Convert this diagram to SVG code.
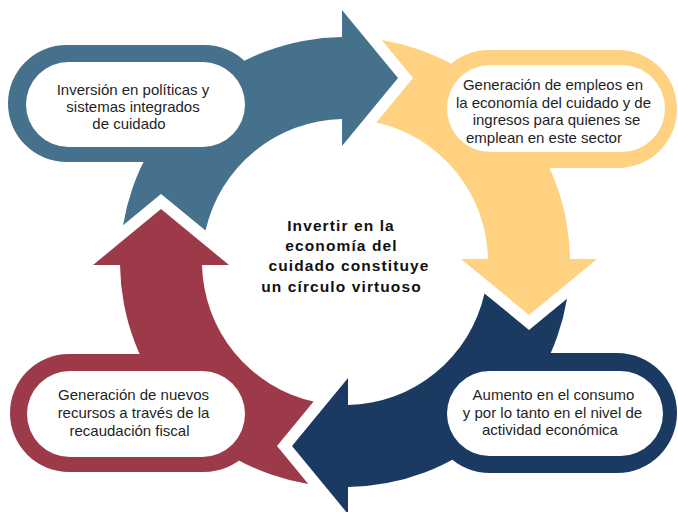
<svg xmlns="http://www.w3.org/2000/svg" width="678" height="512" viewBox="0 0 678 512">
  <defs>
    <path id="arrowShape" d="M 161 194 L 123 225.3 A 225 225 0 0 1 342 37.02 L 342 10 L 398 78 L 342 146 L 342 119.03 A 143 143 0 0 0 205.5 230.6 Z"/>
  </defs>
  <style>
    .lbl { font-family: "Liberation Sans", Arial, sans-serif; font-size: 15px; fill: #1f1f1f; text-anchor: middle; }
    .ctr { font-family: "Liberation Sans", Arial, sans-serif; font-size: 15.5px; font-weight: bold; fill: #111; text-anchor: middle; letter-spacing: 1.1px; }
    .white { fill: #ffffff; }
    .c-blue { fill: #46718C; }
    .c-yellow { fill: #FED280; }
    .c-navy { fill: #1A3A62; }
    .c-red { fill: #9C3A4A; }
  </style>
  <rect width="678" height="512" fill="#ffffff"/>

  <g id="connectors">
    <use href="#arrowShape" class="c-blue"/>
    <use href="#arrowShape" class="c-yellow" transform="rotate(90 345 262)"/>
    <use href="#arrowShape" class="c-navy" transform="rotate(180 345 262)"/>
    <use href="#arrowShape" class="c-red" transform="rotate(270 345 262)"/>
  </g>

  <g id="node-inversion">
    <rect class="c-blue" x="8" y="45" width="255" height="117" rx="58.5"/>
    <rect class="white" x="26" y="62" width="219" height="85" rx="42.5"/>
    <text class="lbl"><tspan x="133" y="95">Inversión en políticas y</tspan><tspan x="133" y="112">sistemas integrados</tspan><tspan x="129" y="129">de cuidado</tspan></text>
  </g>

  <g id="node-empleos">
    <rect class="c-yellow" x="430" y="50" width="247" height="118" rx="59"/>
    <rect class="white" x="447" y="65" width="218" height="87" rx="43.5"/>
    <text class="lbl"><tspan x="553" y="90">Generación de empleos en</tspan><tspan x="553.5" y="107.5">la economía del cuidado y de</tspan><tspan x="556.5" y="125">ingresos para quienes se</tspan><tspan x="544" y="142.5">emplean en este sector</tspan></text>
  </g>

  <g id="node-consumo">
    <rect class="c-navy" x="430" y="353" width="247" height="120" rx="60"/>
    <rect class="white" x="447" y="371" width="216" height="85" rx="42.5"/>
    <text class="lbl"><tspan x="553.5" y="400">Aumento en el consumo</tspan><tspan x="552.5" y="417.5">y por lo tanto en el nivel de</tspan><tspan x="550" y="435">actividad económica</tspan></text>
  </g>

  <g id="node-recursos">
    <rect class="c-red" x="10" y="354" width="253" height="118" rx="59"/>
    <rect class="white" x="27" y="371" width="218" height="86" rx="43"/>
    <text class="lbl"><tspan x="133.5" y="400">Generación de nuevos</tspan><tspan x="133.5" y="418">recursos a través de la</tspan><tspan x="129.5" y="436">recaudación fiscal</tspan></text>
  </g>

  <g id="node-center">
    <text class="ctr"><tspan x="341" y="230.5">Invertir en la</tspan><tspan x="341.5" y="250.5">economía del</tspan><tspan x="349" y="270.5">cuidado constituye</tspan><tspan x="341.5" y="291.5">un círculo virtuoso</tspan></text>
  </g>
</svg>
